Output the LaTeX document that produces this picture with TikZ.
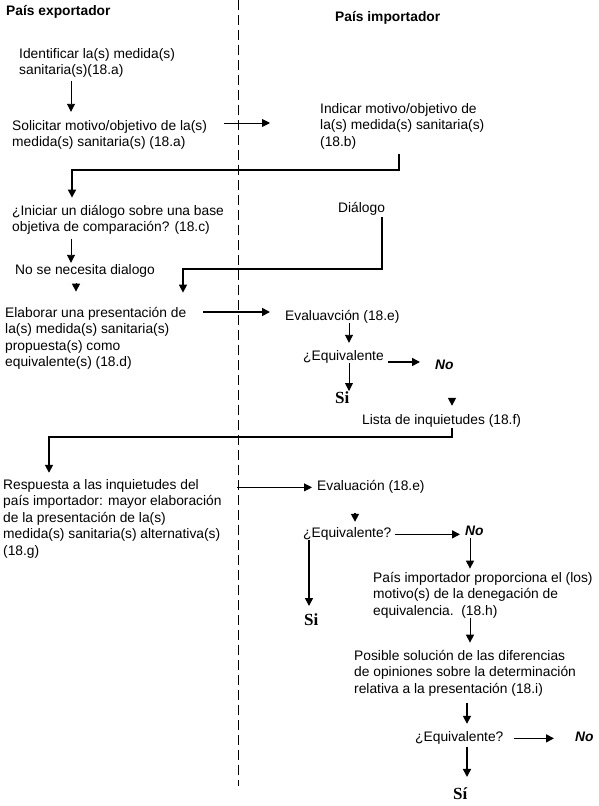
\documentclass[tikz,border=0pt]{standalone}
\usepackage{fontspec}
\setmainfont{Liberation Sans}
\newfontfamily\serifsi{Liberation Serif}
\usetikzlibrary{arrows.meta,calc}

\begin{document}
\begin{tikzpicture}[x=1pt, y=-1pt,
    txt/.style={anchor=base west, inner sep=0pt, align=left, font=\fontsize{13.8}{16.5}\selectfont},
    head/.style={txt, font=\fontsize{13.8}{16.5}\selectfont\bfseries},
    noans/.style={txt, font=\fontsize{13.8}{16.5}\selectfont\bfseries\itshape},
    sians/.style={txt, font=\fontsize{17}{17}\selectfont\serifsi\bfseries},
    arr/.style={line width=1.6pt, -{Triangle[length=8pt,width=8pt]}},
    arrthin/.style={line width=0.9pt, -{Triangle[length=8pt,width=8pt]}}]
    \useasboundingbox (0,0) rectangle (599,806);

    % Divider
    \draw[line width=1pt, dash pattern=on 10pt off 5pt] (238,0) -- (238,786);

    % Headers
    \node[head] (hexp) at (6,15) {País exportador};
    \node[head] (himp) at (335,21) {País importador};

    % Exporting country (placed by the baseline of the last line)
    \node[txt] (ident) at (19,74.5) {Identificar la(s) medida(s)\\sanitaria(s)(18.a)};
    \node[txt] (solic) at (12,146.5) {Solicitar motivo/objetivo de la(s)\\medida(s) sanitaria(s) (18.a)};
    \node[txt] (inic) at (12,231.5) {¿Iniciar un diálogo sobre una base\\objetiva de comparación? (18.c)};
    \node[txt] (nonec) at (15,274) {No se necesita dialogo};
    \node[txt] (elab) at (5,366.5) {Elaborar una presentación de\\la(s) medida(s) sanitaria(s)\\propuesta(s) como\\equivalente(s) (18.d)};
    \node[txt] (resp) at (3,555) {Respuesta a las inquietudes del\\país importador: mayor elaboración\\de la presentación de la(s)\\medida(s) sanitaria(s) alternativa(s)\\(18.g)};

    % Importing country
    \node[txt] (indic) at (320,146) {Indicar motivo/objetivo de\\la(s) medida(s) sanitaria(s)\\(18.b)};
    \node[txt] (dial) at (338,212) {Diálogo};
    \node[txt] (evalA) at (285,320) {Evaluavción (18.e)};
    \node[txt] (equivA) at (303,360) {¿Equivalente};
    \node[noans] (noA) at (435,369) {No};
    \node[sians] (siA) at (335,403) {Si};
    \node[txt] (lista) at (362,424) {Lista de inquietudes (18.f)};
    \node[txt] (evalB) at (317,490) {Evaluación (18.e)};
    \node[txt] (equivB) at (303,537) {¿Equivalente?};
    \node[noans] (noB) at (465,535) {No};
    \node[sians] (siB) at (304,625) {Si};
    \node[txt] (motiv) at (373,615) {País importador proporciona el (los)\\motivo(s) de la denegación de\\equivalencia.\ \ (18.h)};
    \node[txt] (posib) at (354,693) {Posible solución de las diferencias\\de opiniones sobre la determinación\\relativa a la presentación (18.i)};
    \node[txt] (equivC) at (415,741) {¿Equivalente?};
    \node[noans] (noC) at (575,741) {No};
    \node[sians] (siC) at (453,799) {Sí};
    \coordinate (listtop) at (452,398);

    % Arrows
    \draw[arrthin, shorten <=3pt, shorten >=8pt] (ident.south -| 71,0) -- (solic.north -| 71,0);
    \draw[arrthin, shorten <=17pt, shorten >=50pt] (solic.east |- 0,123) -- (indic.west |- 0,123);
    \draw[arr, shorten <=5pt, shorten >=7pt] (indic.south -| 399,0) -- (399,170) -| (inic.north -| 72,0);
    \draw[arrthin, shorten <=4pt, shorten >=1pt] (inic.south -| 71,0) -- (nonec.north -| 71,0);
    \draw[arrthin, shorten <=6pt, shorten >=15pt] (nonec.south -| 76,0) -- (elab.north -| 76,0);
    \draw[line width=1.3pt, -{Triangle[length=8pt,width=8pt]}, shorten <=2pt, shorten >=14pt] (dial.south -| 382,0) -- (382,269) -| (elab.north -| 183,0);
    \draw[arr, shorten <=17pt, shorten >=15pt] (elab.east |- 0,312) -- (evalA.west |- 0,312);
    \draw[arrthin, shorten >=7pt] (evalA.south -| 349,0) -- (equivA.north -| 349,0);
    \draw[arr, shorten <=4pt, shorten >=15pt] ([yshift=-2pt]equivA.base east) -- ([yshift=-2pt]equivA.base east -| noA.west);
    \draw[arrthin] (equivA.south -| 349,0) -- (siA.north -| 349,0);
    \draw[arr, shorten >=8pt] (listtop) -- (lista.north -| listtop);
    \draw[arr, shorten <=1pt, shorten >=6pt] (lista.south -| 452,0) -- (452,437) -| (resp.north -| 49,0);
    \draw[arrthin, shorten <=15pt, shorten >=5pt] (resp.east |- evalB.mid) -- (evalB.mid west);
    \draw[arr, shorten <=20pt, shorten >=5pt] (evalB.south -| 355,0) -- (equivB.north -| 355,0);
    \draw[arr, shorten <=3pt, shorten >=5pt] (equivB.mid east) -- (equivB.mid east -| noB.west);
    \draw[arr, shorten >=7pt] (equivB.south -| 309,0) -- (siB.north -| 309,0);
    \draw[arrthin, shorten <=3pt, shorten >=3pt] (noB.south -| 470,0) -- (motiv.north -| 470,0);
    \draw[arrthin, shorten >=7pt] (motiv.south -| 470,0) -- (posib.north -| 470,0);
    \draw[arr, shorten <=7pt, shorten >=7pt] (posib.south -| 467,0) -- (equivC.north -| 467,0);
    \draw[arr, shorten <=10pt, shorten >=21pt] (equivC.mid east) -- (equivC.mid east -| noC.west);
    \draw[arr, shorten <=3pt, shorten >=10pt] (equivC.south -| 467,0) -- (siC.north -| 467,0);
\end{tikzpicture}
\end{document}
